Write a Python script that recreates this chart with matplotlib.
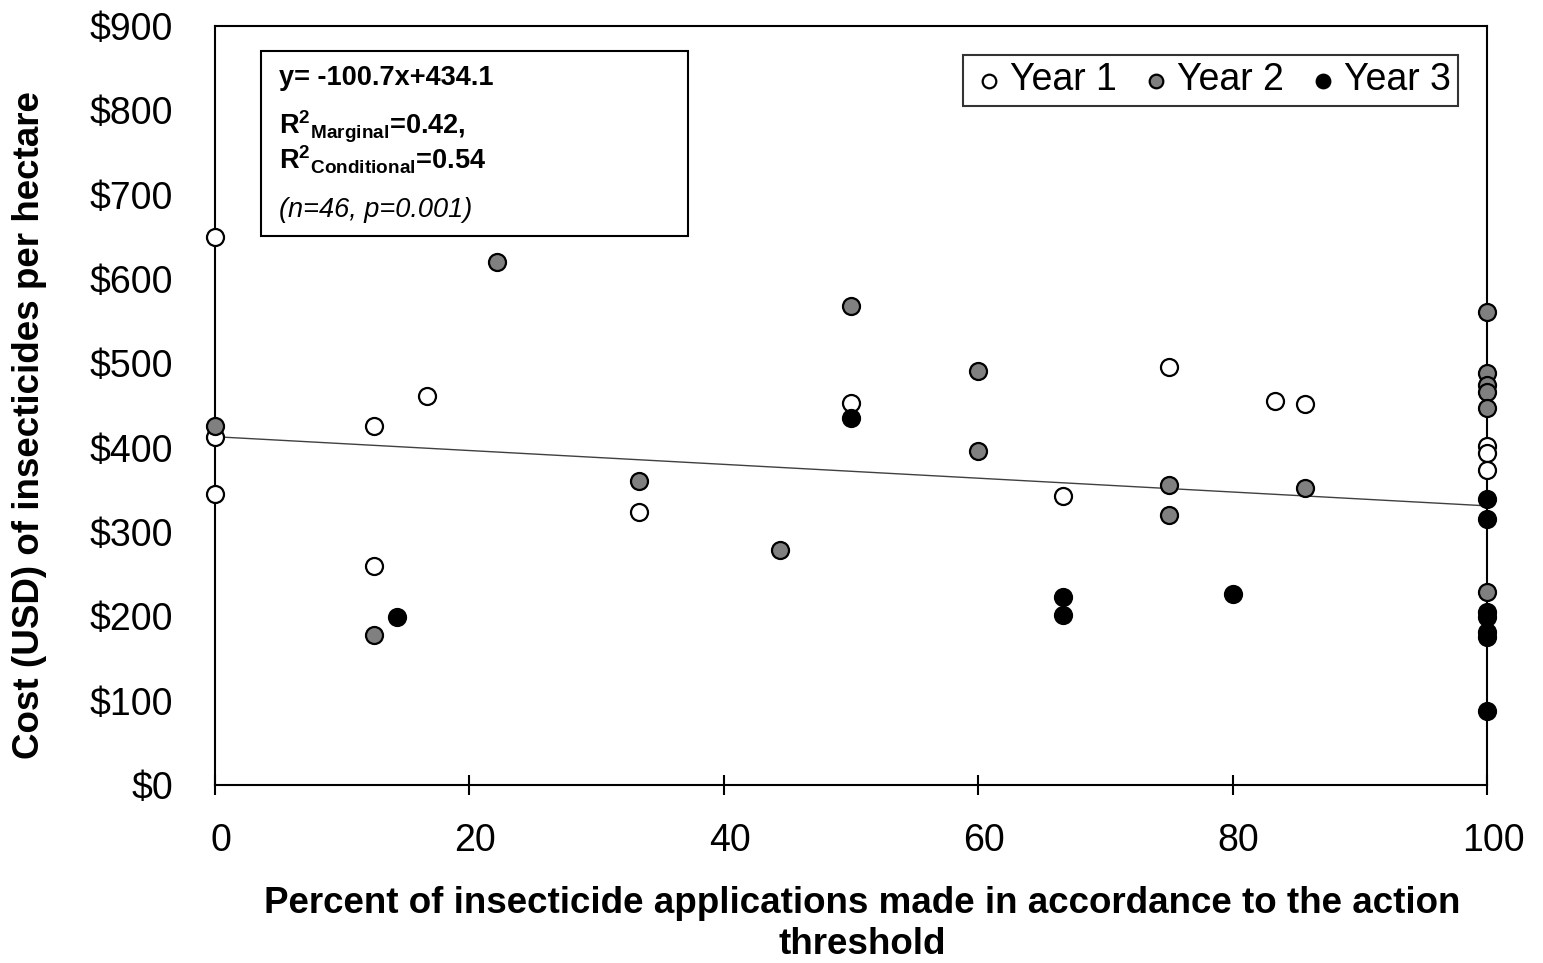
import matplotlib
matplotlib.use("Agg")
import matplotlib.pyplot as plt
from matplotlib.patches import Rectangle
from matplotlib.ticker import FuncFormatter
from matplotlib.transforms import ScaledTranslation

plt.rcParams['font.family'] = ['Liberation Sans', 'DejaVu Sans']
plt.rcParams['mathtext.fontset'] = 'custom'
plt.rcParams['mathtext.rm'] = 'Liberation Sans'
plt.rcParams['mathtext.bf'] = 'Liberation Sans:bold'
plt.rcParams['mathtext.it'] = 'Liberation Sans:italic'

# ---- data ----
year1_x = [0, 0, 0, 12.5, 12.5, 16.7, 33.3, 50, 66.7, 75, 83.3, 85.7, 100, 100, 100]
year1_y = [650, 413, 345, 426, 260, 461, 324, 453, 343, 496, 455, 452, 402, 394, 374]

year2_x = [0, 12.5, 22.2, 33.3, 44.4, 50, 60, 60, 75, 75, 85.7, 100, 100, 100, 100, 100, 100]
year2_y = [426, 178, 620, 360, 279, 568, 491, 396, 356, 320, 352, 561, 489, 474, 466, 447, 229]

year3_x = [14.3, 50, 66.7, 66.7, 80, 100, 100, 100, 100, 100, 100, 100]
year3_y = [199, 435, 223, 202, 226, 339, 315, 205, 199, 181, 175, 88]

fit_x = [0, 100]
fit_y = [413, 331]

series_labels = ["Year 1", "Year 2", "Year 3"]
x_ticks = [0, 20, 40, 60, 80, 100]
y_ticks = [0, 100, 200, 300, 400, 500, 600, 700, 800, 900]

W, H = 1543, 963
fig = plt.figure(figsize=(W / 100, H / 100), dpi=100)
L, R, T, B = 215, 1487, 26, 785
ax = fig.add_axes([L / W, 1 - B / H, (R - L) / W, (B - T) / H])

ax.set_xlim(0, 100)
ax.set_ylim(0, 900)

ax.plot(fit_x, fit_y, color='#404040', lw=1.0, zorder=2)

ms = 150
ew = 1.6
ax.scatter(year1_x, year1_y, s=ms, facecolor='white', edgecolor='black', linewidth=ew,
           zorder=3, clip_on=False, label=series_labels[0])
ax.scatter(year2_x, year2_y, s=ms, facecolor='#808080', edgecolor='black', linewidth=ew,
           zorder=3, clip_on=False, label=series_labels[1])
ax.scatter(year3_x, year3_y, s=ms, facecolor='black', edgecolor='black', linewidth=ew,
           zorder=3, clip_on=False, label=series_labels[2])

for s in ax.spines.values():
    s.set_linewidth(1.5)
    s.set_color('black')

ax.set_xticks(x_ticks)
ax.set_yticks(y_ticks)
ax.yaxis.set_major_formatter(FuncFormatter(lambda v, p: f"${int(v)}"))
ax.tick_params(axis='x', direction='inout', length=14, width=1.5, labelsize=27, pad=20)
ax.tick_params(axis='y', length=0, labelsize=27, pad=30)
for lab in ax.get_xticklabels():
    lab.set_transform(lab.get_transform() + ScaledTranslation(6 / 100, 0, fig.dpi_scale_trans))

ax.set_xlabel("Percent of insecticide applications made in accordance to the action\nthreshold",
              fontsize=26.5, fontweight='bold', linespacing=1.25)
ax.set_ylabel("Cost (USD) of insecticides per hectare", fontsize=26.5, fontweight='bold')
ax.xaxis.set_label_coords((862 - L) / (R - L), (B - 924) / (B - T))
ax.xaxis.label.set_va('center')
ax.yaxis.set_label_coords((30 - L) / (R - L), (B - 425) / (B - T))
ax.yaxis.label.set_va('center')

leg = ax.legend(loc='upper left', bbox_to_anchor=((963 - L) / (R - L), 1 - (55 - T) / (B - T)),
                ncol=3, fontsize=27, frameon=True, fancybox=False, edgecolor='black',
                markerscale=0.8, handletextpad=0.05, columnspacing=0.55, borderpad=0.2,
                handlelength=1.0, borderaxespad=0)
leg.get_frame().set_linewidth(1.5)

# annotation box
bx0, by0, bx1, by1 = 261, 51, 688, 236
fig.patches.append(Rectangle((bx0 / W, 1 - by1 / H), (bx1 - bx0) / W, (by1 - by0) / H,
                             transform=fig.transFigure, facecolor='white', edgecolor='black',
                             linewidth=1.5, zorder=5))
tx = 279 / W
fs = 19.5
fig.text(tx, 1 - 78 / H, "y= -100.7x+434.1", fontsize=fs, fontweight='bold', va='center', zorder=6)
fig.text(tx, 1 - 127 / H, r"R$^{\mathbf{2}}{}_{\mathbf{Marginal}}$=0.42,", fontsize=fs,
         fontweight='bold', va='center', zorder=6)
fig.text(tx, 1 - 160 / H, r"R$^{\mathbf{2}}{}_{\mathbf{Conditional}}$=0.54", fontsize=fs,
         fontweight='bold', va='center', zorder=6)
fig.text(tx, 1 - 210 / H, "(n=46, p=0.001)", fontsize=fs, fontstyle='italic', va='center', zorder=6)

fig.savefig("out.png", dpi=100)
